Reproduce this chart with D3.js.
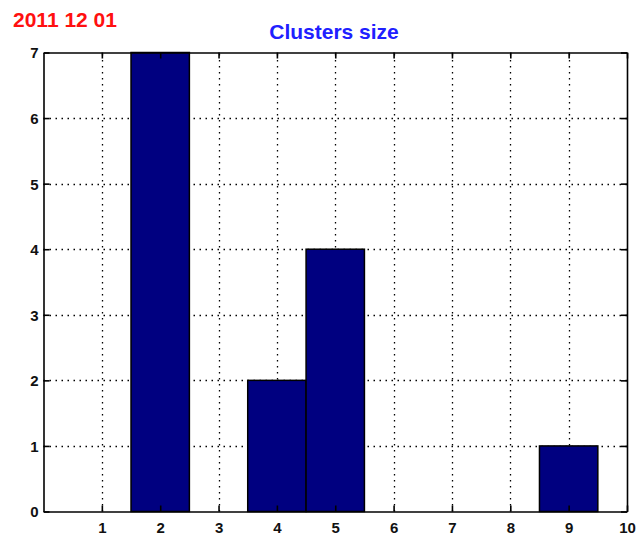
<!DOCTYPE html>
<html>
<head>
<meta charset="utf-8">
<script src="https://cdn.jsdelivr.net/npm/d3@7"></script>
<style>
  html, body { margin: 0; padding: 0; background: #fff; }
  svg { display: block; }
  text { font-family: "Liberation Sans", Arial, sans-serif; font-weight: bold; }
</style>
</head>
<body>
<svg id="chart" width="639" height="539"></svg>
<script>
// Cluster sizes (number of clusters of each size)
const clusterSizes = [1, 2, 3, 4, 5, 6, 7, 8, 9];
const clusterCounts = [0, 7, 0, 2, 4, 0, 0, 0, 1];
const xTicks = [1, 2, 3, 4, 5, 6, 7, 8, 9, 10];
const yTicks = [0, 1, 2, 3, 4, 5, 6, 7];
const dateLabel = "2011 12 01";
const titleText = "Clusters size";

const svg = d3.select("#chart");
const margin = { left: 43.5, right: 639 - 627, top: 52.5, bottom: 539 - 511.5 };
const W = 639, H = 539;

const x = d3.scaleLinear().domain([0, 10]).range([margin.left, W - margin.right]);
const y = d3.scaleLinear().domain([0, 7]).range([H - margin.bottom, margin.top]);

// Plot background
svg.append("rect")
  .attr("x", x(0)).attr("y", y(7))
  .attr("width", x(10) - x(0)).attr("height", y(0) - y(7))
  .attr("fill", "#fff");

// Dotted grid
const grid = svg.append("g").attr("stroke", "#000").attr("stroke-width", 1.3)
  .attr("stroke-dasharray", "1.5,4.5");
grid.selectAll("line.gx").data(xTicks.filter(d => d < 10)).join("line")
  .attr("x1", d => Math.round(x(d)) + 0.5).attr("x2", d => Math.round(x(d)) + 0.5)
  .attr("y1", y(0)).attr("y2", y(7));
grid.selectAll("line.gy").data(yTicks.filter(d => d > 0 && d < 7)).join("line")
  .attr("y1", d => Math.round(y(d)) + 0.5).attr("y2", d => Math.round(y(d)) + 0.5)
  .attr("x1", x(0)).attr("x2", x(10));

// Bars, width one unit centred on each size
const bars = clusterSizes.map((s, i) => ({ s, c: clusterCounts[i] })).filter(d => d.c > 0);
svg.append("g").selectAll("rect").data(bars).join("rect")
  .attr("x", d => x(d.s - 0.5)).attr("width", d => x(d.s + 0.5) - x(d.s - 0.5))
  .attr("y", d => y(d.c)).attr("height", d => y(0) - y(d.c))
  .attr("fill", "#000080").attr("stroke", "#000").attr("stroke-width", 1.5);

// Axes (ticks pointing inward, mirrored on top and right)
const tickLen = 6;
const axisG = svg.append("g");
const xb = axisG.append("g").attr("transform", `translate(0,${y(0)})`)
  .call(d3.axisBottom(x).tickValues(xTicks).tickFormat(d3.format("d"))
    .tickSizeInner(-tickLen).tickSizeOuter(0).tickPadding(11));
const xt = axisG.append("g").attr("transform", `translate(0,${y(7)})`)
  .call(d3.axisTop(x).tickValues(xTicks).tickSizeInner(-tickLen).tickSizeOuter(0).tickFormat(""));
const yl = axisG.append("g").attr("transform", `translate(${x(0)},0)`)
  .call(d3.axisLeft(y).tickValues(yTicks).tickFormat(d3.format("d"))
    .tickSizeInner(-tickLen).tickSizeOuter(0).tickPadding(5));
const yr = axisG.append("g").attr("transform", `translate(${x(10)},0)`)
  .call(d3.axisRight(y).tickValues(yTicks).tickSizeInner(-tickLen).tickSizeOuter(0).tickFormat(""));
[xb, xt, yl, yr].forEach(g => {
  g.selectAll("path.domain").attr("stroke", "#000").attr("stroke-width", 1.6);
  g.selectAll(".tick line").attr("stroke", "#000").attr("stroke-width", 1.6);
  g.selectAll(".tick text").attr("fill", "#111").attr("font-size", 15)
    .attr("font-family", "'Liberation Sans', Arial, sans-serif").attr("font-weight", "bold");
});
yl.selectAll(".tick text").attr("dy", "0.36em");

// Titles
svg.append("text").attr("x", 13).attr("y", 27).attr("fill", "#ff1010")
  .attr("font-size", 21).text(dateLabel);
svg.append("text").attr("x", 334).attr("y", 38.5).attr("text-anchor", "middle")
  .attr("fill", "#2020ff").attr("font-size", 21).text(titleText);
</script>
</body>
</html>
